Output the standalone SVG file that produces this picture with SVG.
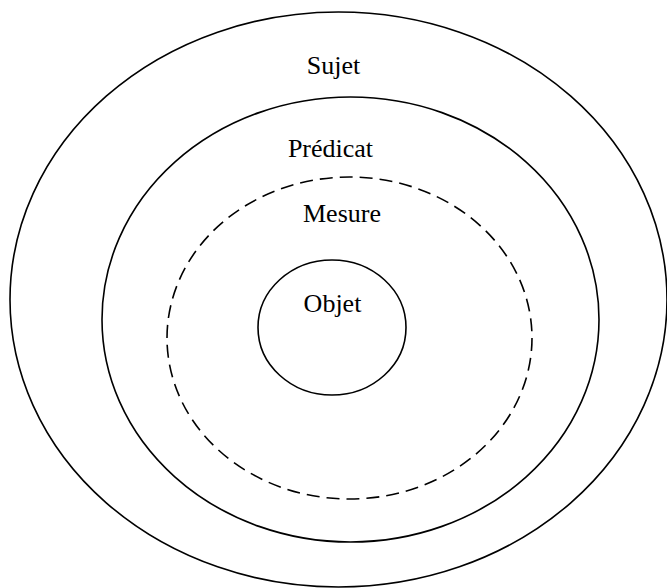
<svg xmlns="http://www.w3.org/2000/svg" width="667" height="588" viewBox="0 0 667 588">
<style>
.ring{fill:none;stroke:#000;stroke-width:1.6}
.dash{stroke-dasharray:13 7}
.lbl{font-family:"Liberation Serif","Times New Roman",serif;font-size:26px;fill:#000;text-anchor:middle}
</style>
<rect width="667" height="588" fill="#fff"/>
<g id="sujet">
<ellipse class="ring" cx="338.5" cy="299.5" rx="328.5" ry="287.5"/>
<text class="lbl" x="333.5" y="74">Sujet</text>
</g>
<g id="predicat">
<ellipse class="ring" cx="350.5" cy="319.5" rx="248.5" ry="222.5"/>
<text class="lbl" x="330.5" y="157">Prédicat</text>
</g>
<g id="mesure">
<ellipse class="ring dash" cx="349.5" cy="338" rx="182.5" ry="161"/>
<text class="lbl" x="342" y="222">Mesure</text>
</g>
<g id="objet">
<ellipse class="ring" cx="332" cy="327.5" rx="74" ry="67.5"/>
<text class="lbl" x="332.5" y="312">Objet</text>
</g>
<g id="connectors"/>
</svg>
